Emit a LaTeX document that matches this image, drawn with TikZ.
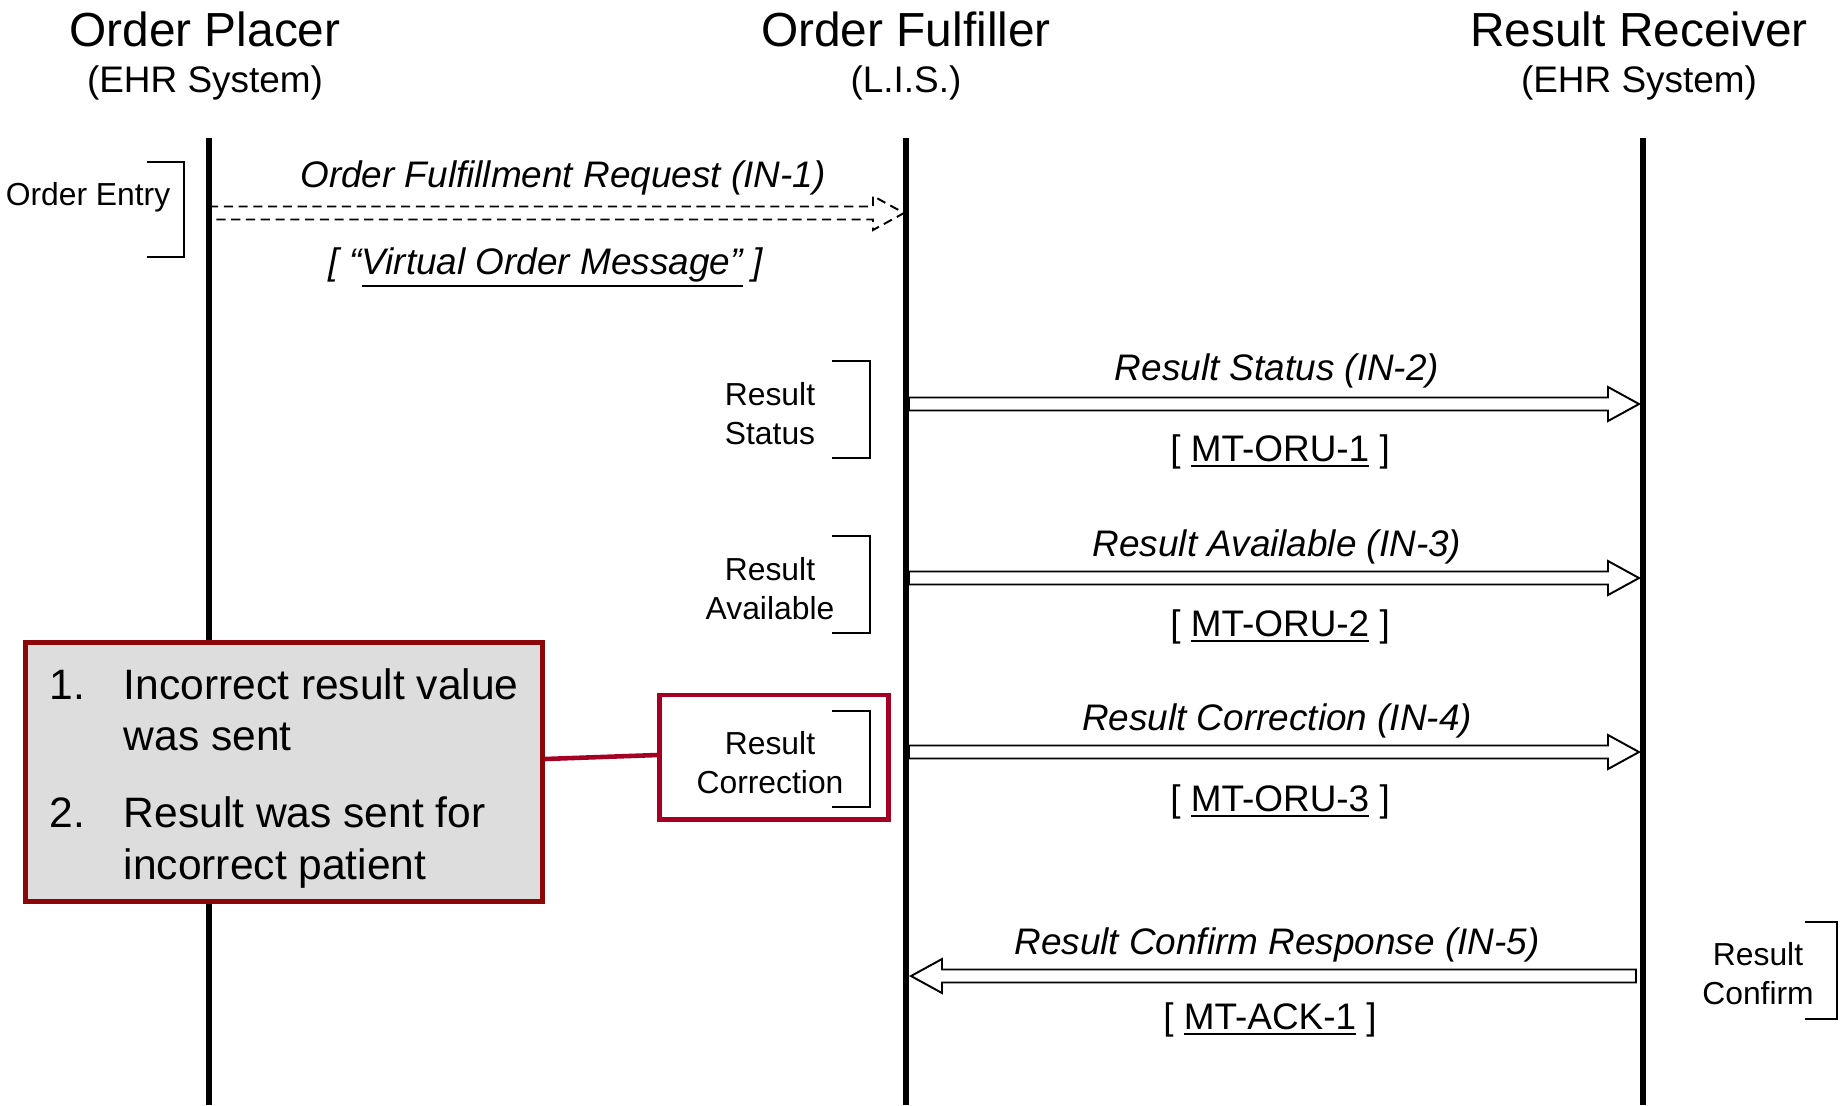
\documentclass[tikz,border=0pt]{standalone}
\usepackage{fontspec}
\setmainfont{Liberation Sans}
\usetikzlibrary{calc}
\definecolor{calloutred}{RGB}{140,8,8}
\definecolor{boxred}{RGB}{165,0,35}
\definecolor{calloutfill}{RGB}{221,221,221}
\newcommand{\msgR}[3][msg]{\draw[#1] ($(#2)+(0,-6.5)$) -- ($(#3)+(-31,-6.5)$) -- ($(#3)+(-31,-17)$) -- (#3) -- ($(#3)+(-31,17)$) -- ($(#3)+(-31,6.5)$) -- ($(#2)+(0,6.5)$) -- cycle;}
\newcommand{\msgL}[3][msg]{\draw[#1] ($(#2)+(0,-6.5)$) -- ($(#3)+(31,-6.5)$) -- ($(#3)+(31,-17)$) -- (#3) -- ($(#3)+(31,17)$) -- ($(#3)+(31,6.5)$) -- ($(#2)+(0,6.5)$) -- cycle;}
\newcommand{\myul}[1]{\leavevmode\vtop{\hbox{#1}\kern0.9pt\hrule height 0.75pt}}
\begin{document}
\begin{tikzpicture}[x=0.01cm,y=-0.01cm,
  title/.style={font=\fontsize{13.6}{16}\selectfont, anchor=base, inner sep=0pt},
  subtitle/.style={font=\fontsize{10.5}{12.6}\selectfont, anchor=base, inner sep=0pt},
  msglabel/.style={font=\fontsize{10.5}{12.6}\selectfont\itshape, anchor=base, inner sep=0pt},
  msgtype/.style={font=\fontsize{10.5}{12.6}\selectfont, anchor=base, inner sep=0pt},
  phase/.style={font=\fontsize{9.05}{11.1}\selectfont, align=center, inner sep=0pt},
  lifeline/.style={line width=1.7pt},
  bracket/.style={line width=0.6pt},
  msg/.style={line width=0.55pt, fill=white, line join=miter},
  dmsg/.style={msg, dash pattern=on 2.6pt off 1.6pt},
  calltext/.style={font=\fontsize{12.1}{14.5}\selectfont, anchor=base west, inner sep=0pt},
  callbox/.style={draw=calloutred, fill=calloutfill, line width=1.4pt, minimum width=5.16cm, minimum height=2.58cm, inner sep=0pt},
  redbox/.style={draw=boxred, line width=1.4pt, minimum width=2.285cm, minimum height=1.24cm, inner sep=0pt},
  conn/.style={draw=boxred, line width=1.3pt},
]
\useasboundingbox (0,0) rectangle (1840,1105);

% headers
\node[title] (tp) at (205,46) {Order Placer};
\node[subtitle] (sp) at (205,92) {(EHR System)};
\node[title] (tf) at (906,46) {Order Fulfiller};
\node[subtitle] (sf) at (906,92) {(L.I.S.)};
\node[title] (tr) at (1639,46) {Result Receiver};
\node[subtitle] (sr) at (1639,92) {(EHR System)};

% lifeline coordinates
\coordinate (ptop) at (209,138);
\coordinate (pbot) at (209,1105);
\coordinate (ftop) at (906,138);
\coordinate (fbot) at (906,1105);
\coordinate (rtop) at (1643,138);
\coordinate (rbot) at (1643,1105);

% message end points
\coordinate (m1s) at (209,213);
\coordinate (m1e) at (904,213);
\coordinate (m2s) at (909,404);
\coordinate (m2e) at (1639,404);
\coordinate (m3s) at (909,578);
\coordinate (m3e) at (1639,578);
\coordinate (m4s) at (909,752);
\coordinate (m4e) at (1639,752);
\coordinate (m5s) at (1636,976);
\coordinate (m5e) at (911,976);

% messages
\msgR[dmsg]{m1s}{m1e}
\msgR{m2s}{m2e}
\msgR{m3s}{m3e}
\msgR{m4s}{m4e}
\msgL{m5s}{m5e}

% lifelines
\draw[lifeline] (ptop) -- (pbot);
\draw[lifeline] (ftop) -- (fbot);
\draw[lifeline] (rtop) -- (rbot);

% message labels
\node[msglabel] (l1a) at (563,187) {Order Fulfillment Request (IN-1)};
\node[msglabel] (l1b) at (546,274) {[ “\myul{Virtual Order Message”} ]};
\node[msglabel] (l2a) at (1277,380) {Result Status (IN-2)};
\node[msgtype] (l2b) at (1280,461) {[ \myul{MT-ORU-1} ]};
\node[msglabel] (l3a) at (1277,556) {Result Available (IN-3)};
\node[msgtype] (l3b) at (1280,636) {[ \myul{MT-ORU-2} ]};
\node[msglabel] (l4a) at (1277,730) {Result Correction (IN-4)};
\node[msgtype] (l4b) at (1280,811) {[ \myul{MT-ORU-3} ]};
\node[msglabel] (l5a) at (1277,954) {Result Confirm Response (IN-5)};
\node[msgtype] (l5b) at (1270,1029) {[ \myul{MT-ACK-1} ]};

% phase brackets and labels
\node[font=\fontsize{9.05}{11.1}\selectfont, anchor=base, inner sep=0pt] (pe) at (88,205) {Order Entry};
\draw[bracket] (147,162) -- (184,162) -- (184,257) -- (147,257);

\node[phase] (ps) at (770,414) {Result\\Status};
\draw[bracket] (832,361) -- (870,361) -- (870,458) -- (832,458);

\node[phase] (pa) at (770,589) {Result\\Available};
\draw[bracket] (832,536) -- (870,536) -- (870,633) -- (832,633);

\node[phase] (pc) at (770,763) {Result\\Correction};
\draw[bracket] (832,711) -- (870,711) -- (870,807) -- (832,807);

\node[phase] (pk) at (1758,974) {Result\\Confirm};
\draw[bracket] (1805,922) -- (1837,922) -- (1837,1019) -- (1805,1019);

% highlight box and callout
\node[redbox] (rb) at (774,757) {};
\node[callbox] (cb) at (284,772) {};
\draw[conn] ([yshift=-0.02cm]cb.east |- rb.west) -- ([yshift=0.02cm]rb.west);

\node[calltext] (n1) at (49,699) {1.};
\node[calltext] (t1a) at (123,699) {Incorrect result value};
\node[calltext] (t1b) at (123,750) {was sent};
\node[calltext] (n2) at (49,827) {2.};
\node[calltext] (t2a) at (123,827) {Result was sent for};
\node[calltext] (t2b) at (123,879) {incorrect patient};
\end{tikzpicture}
\end{document}
